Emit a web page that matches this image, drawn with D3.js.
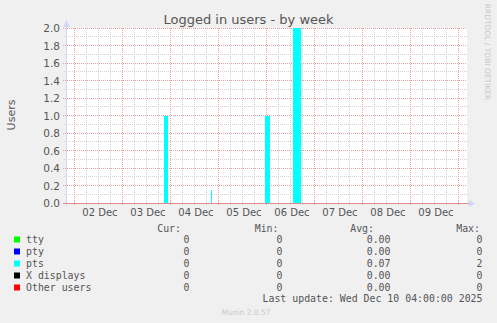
<!DOCTYPE html>
<html><head><meta charset="utf-8">
<script src="https://cdn.jsdelivr.net/npm/d3@7"></script>
<style>body{margin:0;background:#f0f0f0;}svg{display:block;}</style>
</head><body>
<svg id="c" width="497" height="323"></svg>
<script>
// ---- data ----
const seriesNames = ["tty", "pty", "pts", "X displays", "Other users"];
const seriesColors = ["#00ff00", "#0000ff", "#00ffff", "#000000", "#ff0000"];
const curValues = ["0", "0", "0", "0", "0"];
const minValues = ["0", "0", "0", "0", "0"];
const avgValues = ["0.00", "0.00", "0.07", "0.00", "0.00"];
const maxValues = ["0", "0", "2", "0", "0"];

// pts samples (30-minute steps), all other samples are 0
const ptsTimes = [
  "2025-12-03T21:00", "2025-12-03T21:30", "2025-12-03T22:00", "2025-12-03T22:30",
  "2025-12-04T20:30",
  "2025-12-05T23:30", "2025-12-06T00:00", "2025-12-06T00:30", "2025-12-06T01:00", "2025-12-06T01:30",
  "2025-12-06T13:30", "2025-12-06T14:00", "2025-12-06T14:30", "2025-12-06T15:00",
  "2025-12-06T15:30", "2025-12-06T16:00", "2025-12-06T16:30", "2025-12-06T17:00"
];
const ptsValues = [
  1.0, 1.0, 1.0, 1.0,
  0.15,
  1.0, 1.0, 1.0, 1.0, 1.0,
  2.0, 2.0, 2.0, 2.0, 2.0, 2.0, 2.0, 2.0
];

const timeStart = "2025-12-01T20:00";
const timeEnd = "2025-12-10T04:00";
const dayTicks = ["2025-12-02", "2025-12-03", "2025-12-04", "2025-12-05", "2025-12-06", "2025-12-07", "2025-12-08", "2025-12-09"];
const dayLabels = ["02 Dec", "03 Dec", "04 Dec", "05 Dec", "06 Dec", "07 Dec", "08 Dec", "09 Dec"];
const yTicks = [0, 0.2, 0.4, 0.6, 0.8, 1.0, 1.2, 1.4, 1.6, 1.8, 2.0];
const yLabels = ["0.0", "0.2", "0.4", "0.6", "0.8", "1.0", "1.2", "1.4", "1.6", "1.8", "2.0"];

const titleText = "Logged in users - by week";
const yAxisTitle = "Users";
const lastUpdate = "Last update: Wed Dec 10 04:00:00 2025";
const footer = "Munin 2.0.57";
const sideText = "RRDTOOL / TOBI OETIKER";

// ---- drawing ----
const parseT = d3.utcParse("%Y-%m-%dT%H:%M");
const parseD = d3.utcParse("%Y-%m-%d");
const t0 = parseT(timeStart), t1 = parseT(timeEnd);
const L = 66, R = 466, T = 28, B = 203;
const x = d3.scaleUtc().domain([t0, t1]).range([L, R]);
const y = d3.scaleLinear().domain([0, 2]).range([B, T]);
const crisp = v => Math.floor(v) + 0.5;

const svg = d3.select("#c");
const FONT = "DejaVu Sans, sans-serif";
const MONO = "DejaVu Sans Mono, monospace";
const TXT = "#555";

svg.append("rect").attr("width", 497).attr("height", 323).attr("fill", "#f0f0f0");
svg.append("rect").attr("x", L).attr("y", T).attr("width", R - L + 1).attr("height", B - T).attr("fill", "#ffffff");

const grid = svg.append("g");
const minorColor = "#d2d2d2", majorColor = "#eaa0a0";

// minor horizontal
const minorY = d3.range(1, 20, 2).map(i => i / 10);
minorY.forEach(v => {
  grid.append("line").attr("x1", L - 2).attr("x2", R + 1).attr("y1", crisp(y(v))).attr("y2", crisp(y(v)))
    .attr("stroke", minorColor).attr("stroke-dasharray", "1,1");
});
// minor vertical every 6 hours
const majorTimes = dayTicks.map(parseD).concat([parseD("2025-12-10")]);
d3.utcHour.every(6).range(t0, t1).forEach(t => {
  if (t.getUTCHours() === 0) return;
  const xx = crisp(x(t));
  grid.append("line").attr("x1", xx).attr("x2", xx).attr("y1", T).attr("y2", B + 3)
    .attr("stroke", minorColor).attr("stroke-dasharray", "1,1");
});
// major horizontal
yTicks.forEach(v => {
  grid.append("line").attr("x1", L - 3).attr("x2", R + 1).attr("y1", crisp(y(v))).attr("y2", crisp(y(v)))
    .attr("stroke", majorColor).attr("stroke-dasharray", "1,1");
});
// major vertical
majorTimes.forEach(t => {
  const xx = crisp(x(t));
  grid.append("line").attr("x1", xx).attr("x2", xx).attr("y1", T).attr("y2", B + 3)
    .attr("stroke", majorColor).attr("stroke-dasharray", "1,1");
});

// data: full 30-min series built from samples
const step = 30 * 60 * 1000;
const ptsMap = new Map(ptsTimes.map((s, i) => [parseT(s).getTime(), ptsValues[i]]));
const slots = d3.utcMinute.every(30).range(t0, t1);
const ptsSeries = slots.map(t => ({ t, v: ptsMap.get(t.getTime()) || 0 }));
ptsSeries.push({ t: t1, v: 0 });
const area = d3.area().x(d => x(d.t)).y0(y(0)).y1(d => y(d.v)).curve(d3.curveStepAfter);
svg.append("path").datum(ptsSeries).attr("d", area).attr("fill", seriesColors[2]).attr("shape-rendering", "crispEdges");

// axes
const axisColor = "#cfd6f8";
svg.append("line").attr("x1", L + 0.5).attr("x2", L + 0.5).attr("y1", B + 3).attr("y2", T - 4).attr("stroke", axisColor);
svg.append("path").attr("d", `M${L - 3},${T - 1}L${L + 4},${T - 1}L${L + 0.5},${T - 8}Z`).attr("fill", axisColor);
svg.append("line").attr("x1", L - 3).attr("x2", R + 3).attr("y1", B + 0.5).attr("y2", B + 0.5).attr("stroke", "#e08a8a");
svg.append("path").attr("d", `M${R + 3},${B - 3}L${R + 3},${B + 4}L${R + 9},${B + 0.5}Z`).attr("fill", axisColor);

// y tick labels
svg.append("g").selectAll("text").data(yTicks).join("text")
  .attr("x", 60).attr("y", v => y(v) + 4).attr("text-anchor", "end")
  .attr("font-family", FONT).attr("font-size", 10.5).attr("fill", TXT)
  .text((v, i) => yLabels[i]);

// x tick labels (centered at noon)
svg.append("g").selectAll("text").data(dayTicks).join("text")
  .attr("x", d => x(d3.utcHour.offset(parseD(d), 12)) + 2).attr("y", B + 12.5).attr("text-anchor", "middle")
  .attr("font-family", FONT).attr("font-size", 10).attr("fill", TXT)
  .text((d, i) => dayLabels[i]);

// title
svg.append("text").attr("x", 248.5).attr("y", 24).attr("text-anchor", "middle")
  .attr("font-family", FONT).attr("font-size", 13).attr("fill", TXT).text(titleText);

// y axis title
svg.append("text").attr("transform", "translate(15,115) rotate(-90)").attr("text-anchor", "middle")
  .attr("font-family", FONT).attr("font-size", 11).attr("fill", TXT).text(yAxisTitle);

// side text
svg.append("text").attr("transform", "translate(484.5,52) rotate(90)").attr("text-anchor", "middle")
  .attr("font-family", FONT).attr("font-size", 7.5).attr("fill", "#c8c8c8").text(sideText);

// legend
const lg = svg.append("g").attr("font-family", MONO).attr("font-size", 9.9).attr("fill", TXT);
const rowY = i => 243 + i * 12;
lg.append("text").attr("x", 181).attr("y", 231.5).attr("text-anchor", "end").text("Cur:");
lg.append("text").attr("x", 278.5).attr("y", 231.5).attr("text-anchor", "end").text("Min:");
lg.append("text").attr("x", 374).attr("y", 231.5).attr("text-anchor", "end").text("Avg:");
lg.append("text").attr("x", 480).attr("y", 231.5).attr("text-anchor", "end").text("Max:");
seriesNames.forEach((n, i) => {
  lg.append("rect").attr("x", 14).attr("y", rowY(i) - 6.5).attr("width", 6).attr("height", 6).attr("fill", seriesColors[i]);
  lg.append("text").attr("x", 26).attr("y", rowY(i)).text(n);
  lg.append("text").attr("x", 189.5).attr("y", rowY(i)).attr("text-anchor", "end").text(curValues[i]);
  lg.append("text").attr("x", 282.5).attr("y", rowY(i)).attr("text-anchor", "end").text(minValues[i]);
  lg.append("text").attr("x", 390.5).attr("y", rowY(i)).attr("text-anchor", "end").text(avgValues[i]);
  lg.append("text").attr("x", 482.5).attr("y", rowY(i)).attr("text-anchor", "end").text(maxValues[i]);
});
lg.append("text").attr("x", 482.5).attr("y", 302).attr("text-anchor", "end").text(lastUpdate);

svg.append("text").attr("x", 246).attr("y", 315).attr("text-anchor", "middle")
  .attr("font-family", FONT).attr("font-size", 7.5).attr("fill", "#c8c8c8").text(footer);
</script>
</body></html>
